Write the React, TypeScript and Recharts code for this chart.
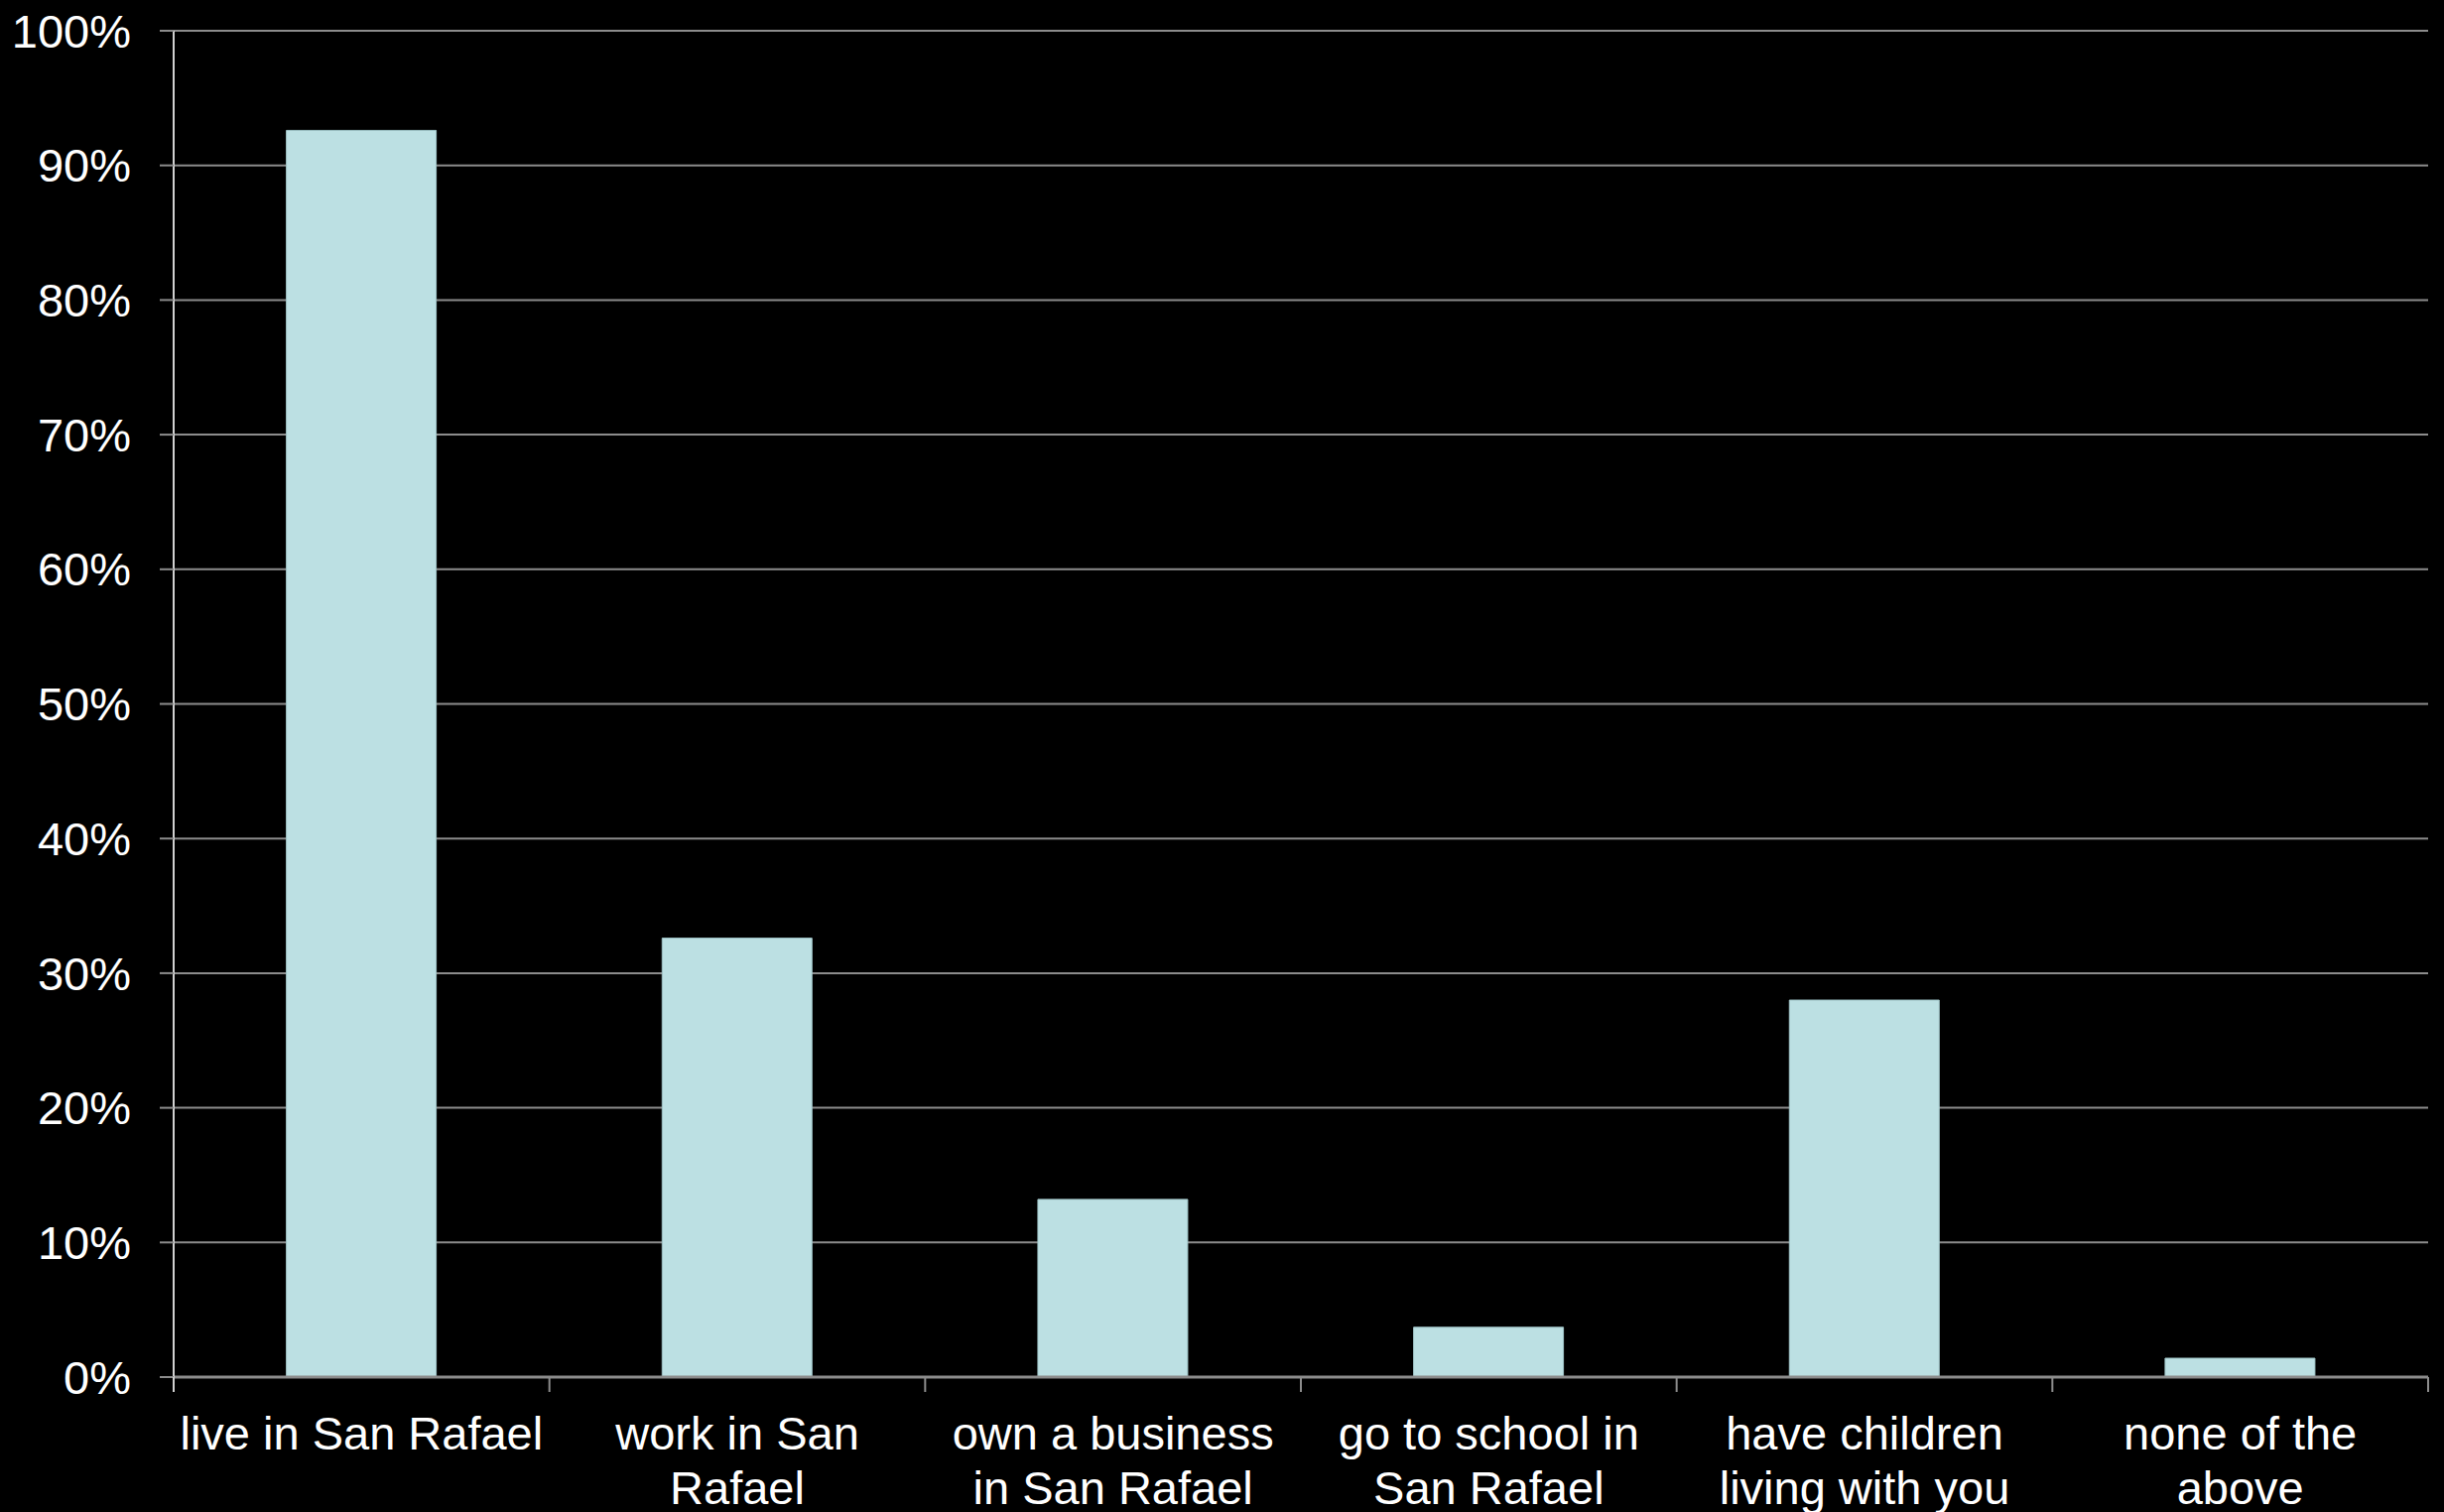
import React from 'react';
import { BarChart, Bar, XAxis, YAxis, CartesianGrid } from 'recharts';

const categories = [
  'live in San Rafael',
  'work in San\nRafael',
  'own a business\nin San Rafael',
  'go to school in\nSan Rafael',
  'have children\nliving with you',
  'none of the\nabove',
];
const shares = [92.6, 32.6, 13.2, 3.7, 28.0, 1.4];
const yTicks = [0, 10, 20, 30, 40, 50, 60, 70, 80, 90, 100];

const W = 2463;
const H = 1524;
const M = { top: 31, right: 16, left: 0, bottom: 0 };
const Y_W = 175;
const X_H = 136;
const FONT = '"Liberation Sans", Arial, sans-serif';
const GRID = '#8c8c8c';

const data = categories.map((c, i) => ({ name: c, value: shares[i] }));
const band = (W - M.left - M.right - Y_W) / categories.length;

function CatTick(props: any) {
  const { x, y, payload, index } = props;
  const lines = String(payload.value).split('\n');
  const bx = x - band / 2;
  return (
    <g>
      <line x1={bx} y1={y} x2={bx} y2={y + 15} stroke={index === 0 ? '#d0d0d0' : GRID} strokeWidth={2} />
      {index === categories.length - 1 && (
        <line x1={x + band / 2} y1={y} x2={x + band / 2} y2={y + 15} stroke={GRID} strokeWidth={2} />
      )}
      <text x={x} y={y + 73} textAnchor="middle" fill="#ffffff" fontSize={47} fontFamily={FONT}>
        {lines.map((l, i) => (
          <tspan key={i} x={x} dy={i === 0 ? 0 : 55}>{l}</tspan>
        ))}
      </text>
    </g>
  );
}

export default function App() {
  return (
    <div style={{ position: 'absolute', left: 0, top: 0, width: W, height: H, background: '#000' }}>
      <BarChart width={W} height={H} data={data} margin={M} barCategoryGap="30%">
        <CartesianGrid vertical={false} stroke={GRID} strokeWidth={2} />
        <XAxis
          dataKey="name"
          height={X_H}
          interval={0}
          tickSize={0}
          tickMargin={0}
          tickLine={false}
          axisLine={{ stroke: GRID, strokeWidth: 3 }}
          tick={<CatTick />}
        />
        <YAxis
          width={Y_W}
          domain={[0, 100]}
          ticks={yTicks}
          interval={0}
          tickFormatter={(v) => `${v}%`}
          tickSize={14}
          tickMargin={29}
          tickLine={{ stroke: GRID, strokeWidth: 2 }}
          axisLine={{ stroke: '#d0d0d0', strokeWidth: 2 }}
          tick={{ fill: '#ffffff', fontSize: 47, fontFamily: FONT }}
        />
        <Bar dataKey="value" fill="#bce0e3" stroke="#9fc4c7" strokeWidth={1} isAnimationActive={false} />
      </BarChart>
    </div>
  );
}
